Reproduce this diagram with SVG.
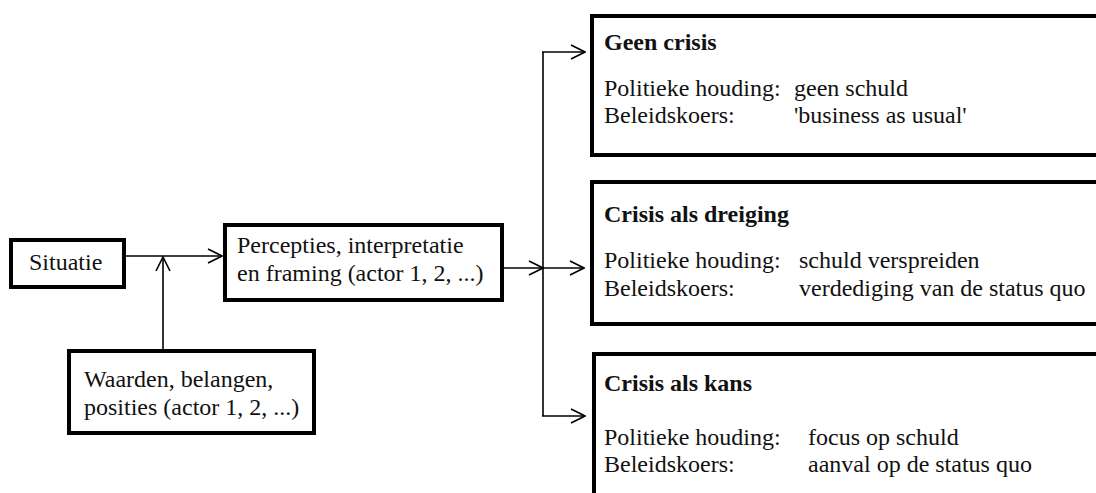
<svg xmlns="http://www.w3.org/2000/svg" width="1096" height="493" viewBox="0 0 1096 493">
  <style>
    .box { fill: #ffffff; stroke: #000000; stroke-width: 4; }
    .conn { fill: none; stroke: #000000; stroke-width: 1.6; }
    .lt { font-family: "Liberation Serif", "Times New Roman", serif; font-size: 24px; fill: #111111; }
    .rt { font-family: "Liberation Serif", "Times New Roman", serif; font-size: 24px; fill: #111111; }
    .title { font-weight: bold; }
  </style>
  <defs>
    <marker id="arr" viewBox="0 0 16 16" refX="15" refY="8" markerWidth="16" markerHeight="16" markerUnits="userSpaceOnUse" orient="auto">
      <path d="M1,1 L15,8 L1,15" fill="none" stroke="#000000" stroke-width="1.6"/>
    </marker>
  </defs>
  <rect width="1096" height="493" fill="#ffffff"/>

  <g id="connectors">
    <line class="conn" x1="126" y1="256" x2="222" y2="256" marker-end="url(#arr)"/>
    <line class="conn" x1="163" y1="349" x2="163" y2="257" marker-end="url(#arr)"/>
    <line class="conn" x1="504" y1="268" x2="543" y2="268" marker-end="url(#arr)"/>
    <line class="conn" x1="543" y1="52" x2="543" y2="416"/>
    <line class="conn" x1="542" y1="52" x2="585" y2="52" marker-end="url(#arr)"/>
    <line class="conn" x1="543" y1="268" x2="584" y2="268" marker-end="url(#arr)"/>
    <line class="conn" x1="542" y1="416" x2="585" y2="416" marker-end="url(#arr)"/>
  </g>

  <g id="situatie">
    <rect class="box" x="11" y="240" width="113" height="47"/>
    <text class="lt" x="29" y="270">Situatie</text>
  </g>

  <g id="waarden">
    <rect class="box" x="69" y="351" width="245" height="82"/>
    <text class="lt" x="84" y="387">Waarden, belangen,</text>
    <text class="lt" x="84" y="415">posities (actor 1, 2, ...)</text>
  </g>

  <g id="percepties">
    <rect class="box" x="225" y="225" width="277" height="75"/>
    <text class="lt" x="237" y="253">Percepties, interpretatie</text>
    <text class="lt" x="237" y="281">en framing (actor 1, 2, ...)</text>
  </g>

  <g id="geen-crisis">
    <rect class="box" x="592" y="16" width="520" height="139"/>
    <text class="rt title" x="604" y="50">Geen crisis</text>
    <text class="rt" x="604" y="96">Politieke houding:</text>
    <text class="rt" x="794" y="96">geen schuld</text>
    <text class="rt" x="604" y="123">Beleidskoers:</text>
    <text class="rt" x="794" y="123">'business as usual'</text>
  </g>

  <g id="crisis-dreiging">
    <rect class="box" x="592" y="182" width="520" height="142"/>
    <text class="rt title" x="604" y="222">Crisis als dreiging</text>
    <text class="rt" x="604" y="268">Politieke houding:</text>
    <text class="rt" x="799" y="268">schuld verspreiden</text>
    <text class="rt" x="604" y="296">Beleidskoers:</text>
    <text class="rt" x="799" y="296">verdediging van de status quo</text>
  </g>

  <g id="crisis-kans">
    <rect class="box" x="594" y="354" width="520" height="160"/>
    <text class="rt title" x="604" y="391">Crisis als kans</text>
    <text class="rt" x="604" y="445">Politieke houding:</text>
    <text class="rt" x="808" y="445">focus op schuld</text>
    <text class="rt" x="604" y="472">Beleidskoers:</text>
    <text class="rt" x="808" y="472">aanval op de status quo</text>
  </g>
</svg>
